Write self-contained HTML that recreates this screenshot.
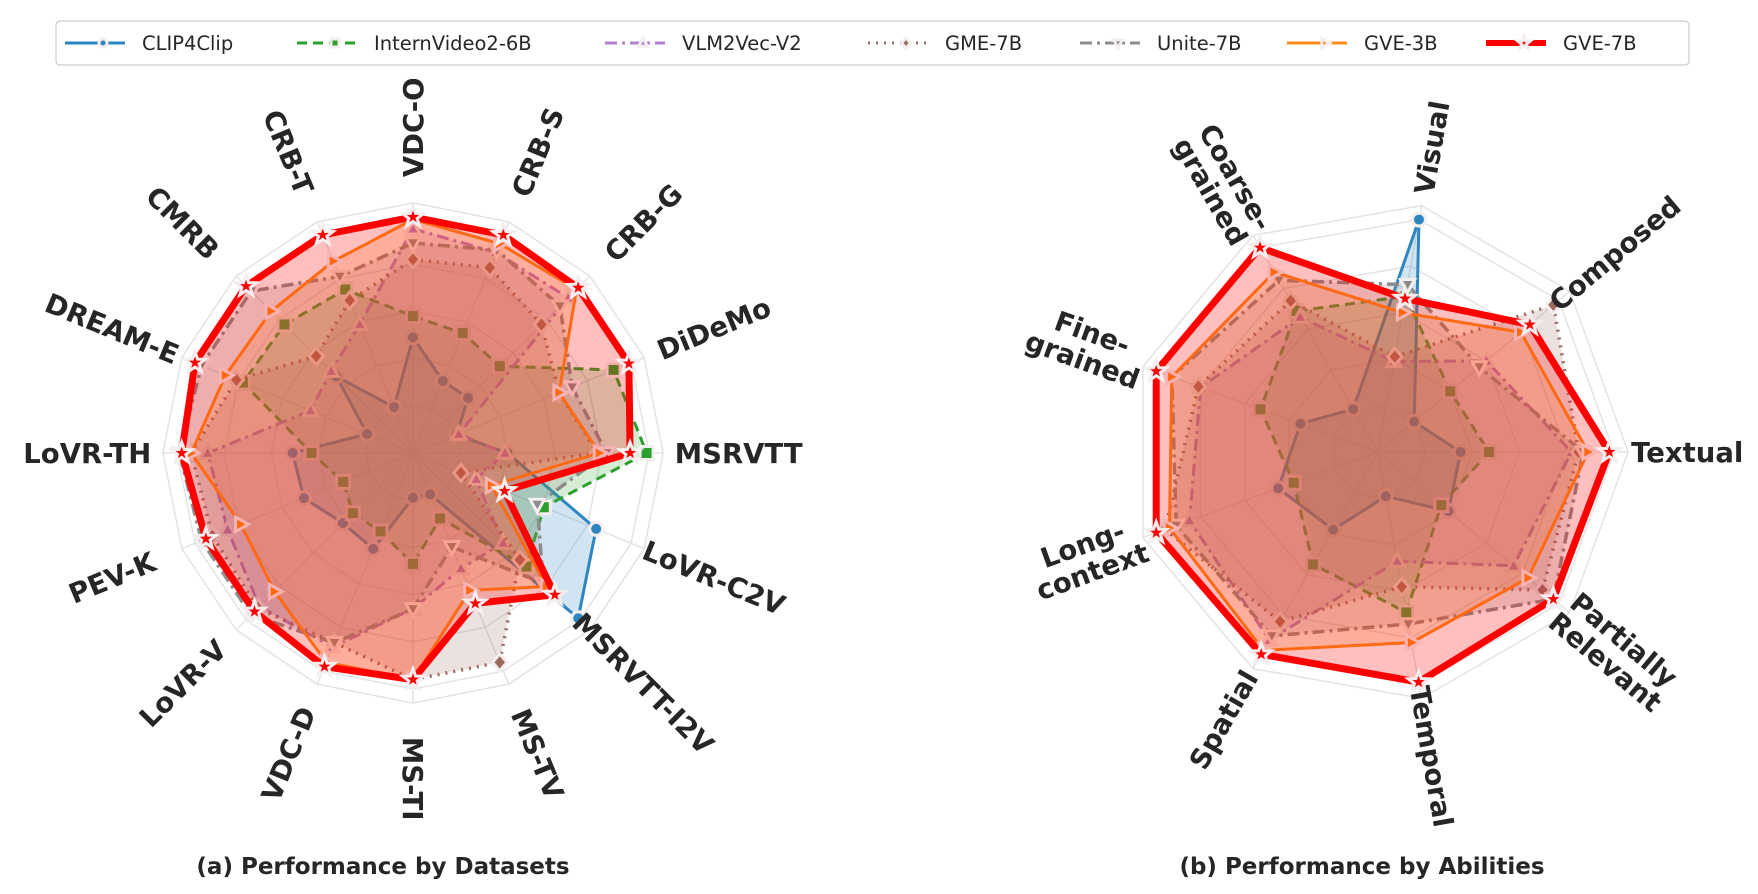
<!DOCTYPE html>
<html><head><meta charset="utf-8">
<style>
html,body{margin:0;padding:0;background:#fff;}
svg{display:block;font-family:"DejaVu Sans","Liberation Sans",sans-serif;}
</style></head>
<body>
<svg id="chart" width="1758" height="894" viewBox="0 0 1758 894" xmlns="http://www.w3.org/2000/svg">
<g id="legend"></g>
<g id="chartA"></g>
<g id="chartB"></g>
<text x="383" y="874" text-anchor="middle" font-weight="bold" font-size="23" fill="#262626">(a) Performance by Datasets</text>
<text x="1362" y="874" text-anchor="middle" font-weight="bold" font-size="23" fill="#262626">(b) Performance by Abilities</text>
</svg>
<script>
// ---- data ----
const datasetAxes = ["VDC-O","CRB-S","CRB-G","DiDeMo","MSRVTT","LoVR-C2V","MSRVTT-I2V","MS-TV","MS-TI","VDC-D","LoVR-V","PEV-K","LoVR-TH","DREAM-E","CMRB","CRB-T"];
const abilityAxes = ["Visual","Composed","Textual","Partially\nRelevant","Temporal","Spatial","Long-\ncontext","Fine-\ngrained","Coarse-\ngrained"];
const modelNames = ["CLIP4Clip","InternVideo2-6B","VLM2Vec-V2","GME-7B","Unite-7B","GVE-3B","GVE-7B"];
// normalized scores per dataset axis
const dsCLIP   = [0.49,0.33,0.33,0.20,0.40,0.84,0.99,0.19,0.19,0.44,0.42,0.50,0.51,0.21,0.46,0.21];
const dsIV2    = [0.58,0.55,0.52,0.92,0.99,0.60,0.68,0.30,0.47,0.36,0.36,0.32,0.43,0.78,0.77,0.75];
const dsVLM    = [0.95,0.92,0.93,0.21,0.39,0.29,0.54,0.53,0.66,0.89,0.92,0.85,0.87,0.47,0.49,0.59];
const dsGME    = [0.82,0.85,0.77,0.67,0.78,0.22,0.64,0.96,0.96,0.87,0.93,0.92,0.94,0.81,0.58,0.70];
const dsUnite  = [0.89,0.93,0.88,0.73,0.82,0.57,0.78,0.43,0.66,0.87,0.97,0.97,0.99,0.97,0.97,0.81];
const dsGVE3   = [0.99,0.96,0.98,0.67,0.79,0.36,0.80,0.63,0.96,0.96,0.83,0.79,0.94,0.86,0.85,0.88];
const dsGVE7   = [1.00,1.00,0.99,0.99,0.92,0.42,0.85,0.69,0.96,0.98,0.95,0.95,0.98,1.00,1.00,1.00];
// normalized scores per ability axis
const abCLIP   = [1.00,0.20,0.35,0.39,0.19,0.38,0.45,0.35,0.21];
const abIV2    = [0.67,0.40,0.47,0.35,0.69,0.55,0.38,0.53,0.69];
const abVLM    = [0.39,0.60,0.82,0.75,0.47,0.92,0.85,0.80,0.66];
const abGME    = [0.41,0.97,0.85,0.91,0.58,0.83,0.96,0.81,0.74];
const abUnite  = [0.72,0.56,0.87,0.97,0.74,0.90,0.91,0.93,0.84];
const abGVE3   = [0.60,0.79,0.89,0.83,0.82,0.97,0.94,0.93,0.88];
const abGVE7   = [0.66,0.84,0.98,0.97,0.99,0.99,1.00,1.00,1.00];

const dsSeries = [dsCLIP,dsIV2,dsVLM,dsGME,dsUnite,dsGVE3,dsGVE7];
const abSeries = [abCLIP,abIV2,abVLM,abGME,abUnite,abGVE3,abGVE7];

const styles = [
 {c:"#2e86c1", w:3, dash:"", m:"circle", fa:0.22},
 {c:"#2ca02c", w:3, dash:"10,6", m:"square", fa:0.2},
 {c:"#b07fcf", w:3, dash:"12,5,3,5", m:"tri-up", fa:0.2},
 {c:"#9c6a5e", w:3.5, dash:"2,6", m:"diamond", fa:0.2},
 {c:"#8c8c8c", w:3.5, dash:"12,5,3,5", m:"tri-down", fa:0.2},
 {c:"#ff8c1a", w:3, dash:"", m:"tri-right", fa:0.2},
 {c:"#ff0000", w:7, dash:"", m:"star", fa:0.25}
];
const NS="http://www.w3.org/2000/svg";
function el(tag, attrs, parent){const e=document.createElementNS(NS,tag);for(const k in attrs)e.setAttribute(k,attrs[k]);if(parent)parent.appendChild(e);return e;}

function markerPath(type,x,y,s){
  if(type==="circle") return null;
  let pts=[];
  if(type==="square") pts=[[-s,-s],[s,-s],[s,s],[-s,s]];
  if(type==="tri-up") pts=[[0,-s*1.2],[s*1.1,s*0.8],[-s*1.1,s*0.8]];
  if(type==="tri-down") pts=[[0,s*1.2],[s*1.1,-s*0.8],[-s*1.1,-s*0.8]];
  if(type==="tri-right") pts=[[s*1.2,0],[-s*0.8,s*1.1],[-s*0.8,-s*1.1]];
  if(type==="diamond") pts=[[0,-s*1.3],[s*1.1,0],[0,s*1.3],[-s*1.1,0]];
  if(type==="star"){for(let i=0;i<10;i++){const r=i%2?s*0.55:s*1.35;const a=Math.PI*i/5;pts.push([r*Math.sin(a),-r*Math.cos(a)]);}}
  return pts.map(p=>(x+p[0]).toFixed(1)+","+(y+p[1]).toFixed(1)).join(" ");
}
function drawMarker(g,type,x,y,s,color,name){
  let m;
  if(type==="circle") m=el("circle",{cx:x,cy:y,r:s,fill:color,stroke:"#f4eeee","stroke-width":3},g);
  else m=el("polygon",{points:markerPath(type,x,y,s),fill:color,stroke:"#f4eeee","stroke-width":3},g);
  
  
}

function drawRadar(gid,cx,cy,R,axes,series,startDeg,labelR,fontSize){
  const g=document.getElementById(gid);
  const n=axes.length;
  const ang=i=>(startDeg+i*360/n)*Math.PI/180;
  const px=(i,r)=>cx+R*r*Math.sin(ang(i));
  const py=(i,r)=>cy-R*r*Math.cos(ang(i));
  const grid=el("g",{},g);
  
  
  [0.2,0.4,0.6,0.8,1.0,1.06].forEach(r=>{
    el("polygon",{points:axes.map((a,i)=>px(i,r)+","+py(i,r)).join(" "),fill:"none",stroke:"#e3e3e3","stroke-width":1.5},grid);
  });
  axes.forEach((a,i)=>el("line",{x1:cx,y1:cy,x2:px(i,1.06),y2:py(i,1.06),stroke:"#e3e3e3","stroke-width":1.5},grid));
  series.forEach((vals,s)=>{
    const st=styles[s];
    const pts=vals.map((v,i)=>px(i,v).toFixed(1)+","+py(i,v).toFixed(1)).join(" ");
    const sg=el("g",{},g);
    
    
    const area=el("polygon",{points:pts,fill:st.c,"fill-opacity":st.fa,stroke:"none"},sg);
    
    
    const line=el("polygon",{points:pts,fill:"none",stroke:st.c,"stroke-width":st.w,"stroke-dasharray":st.dash,"stroke-linejoin":"round"},sg);
    
    
    vals.forEach((v,i)=>drawMarker(sg,st.m,px(i,v),py(i,v),st.m==="star"?8:6.5,st.c,'point-'+modelNames[s].toLowerCase()));
  });
  axes.forEach((a,i)=>{
    const deg=startDeg+i*360/n;
    const d=((deg%360)+360)%360;
    const rot=d<=180?d-90:d-270;
    const x=px(i,labelR),y=py(i,labelR);
    const lines=a.split("\n");
    const t=el("text",{transform:`translate(${x.toFixed(1)},${y.toFixed(1)}) rotate(${rot})`,"text-anchor":"middle","font-weight":"bold","font-size":fontSize,fill:"#262626"},g);
    
    
    lines.forEach((ln,k)=>{const ts=el("tspan",{x:0,y:(k-(lines.length-1)/2)*fontSize*1.05+fontSize*0.36},t);ts.textContent=ln;});
  });
}
drawRadar("chartA",413,453,236,datasetAxes,dsSeries,0,1.38,27.5);
drawRadar("chartB",1378,452,236,abilityAxes,abSeries,10,1.31,27.5);

// legend
const lg=document.getElementById("legend");
el("rect",{x:56,y:21,width:1633,height:44,rx:4,fill:"#fff",stroke:"#cccccc","stroke-width":1.2},lg);
const lx=[65,297,605,868,1080,1287,1486];
modelNames.forEach((nm,i)=>{
  const st=styles[i];
  const eg=el("g",{},lg);
  
  
  el("line",{x1:lx[i],y1:43,x2:lx[i]+60,y2:43,stroke:st.c,"stroke-width":st.w===7?6:3,"stroke-dasharray":st.dash},eg);
  drawMarker(eg,st.m,lx[i]+38,43,st.m==="star"?5:4,st.c,'legend-marker');
  const t=el("text",{x:lx[i]+77,y:50,"font-size":19.5,fill:"#262626"},eg);
  t.textContent=nm;
});
</script>
</body></html>
